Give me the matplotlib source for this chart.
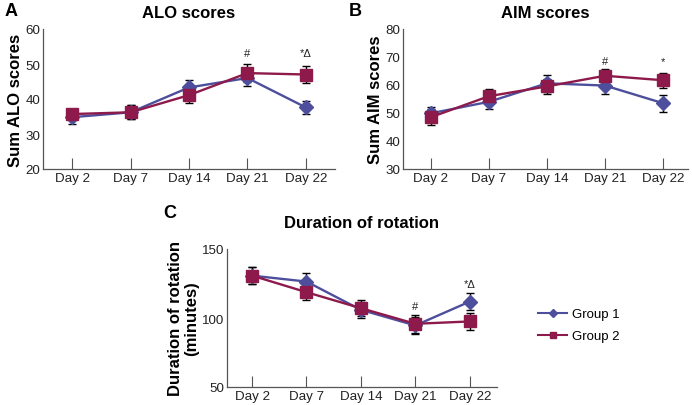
import matplotlib
matplotlib.use("Agg")
import matplotlib.pyplot as plt
from matplotlib.lines import Line2D

plt.rcParams['font.family'] = ['Liberation Sans', 'DejaVu Sans']

days = ["Day 2", "Day 7", "Day 14", "Day 21", "Day 22"]

alo_g1 = [34.8, 36.2, 43.3, 46.0, 37.6]
alo_g1_err = [2.0, 2.0, 2.1, 2.3, 1.9]
alo_g2 = [35.7, 36.2, 41.1, 47.4, 47.0]
alo_g2_err = [1.5, 2.0, 2.1, 2.5, 2.3]

aim_g1 = [49.9, 54.0, 60.6, 59.8, 53.5]
aim_g1_err = [2.4, 2.6, 3.0, 2.9, 3.0]
aim_g2 = [48.5, 56.0, 59.5, 63.3, 61.7]
aim_g2_err = [2.8, 2.6, 2.6, 2.4, 2.6]

rot_g1 = [130.7, 126.4, 105.9, 94.6, 111.9]
rot_g1_err = [6.0, 6.2, 6.0, 6.0, 6.0]
rot_g2 = [130.7, 118.7, 107.1, 95.8, 97.5]
rot_g2_err = [6.2, 6.0, 6.0, 6.5, 6.2]

BLUE = "#4e4f9c"
RED = "#8e1a4c"
AXC = "#555555"

fig = plt.figure(figsize=(6.92, 4.06), dpi=100)

def panel(rect, g1, e1, g2, e2, ylim, yticks, title, ylabel, letter, letter_xy, xlim, annots, tpad):
    ax = fig.add_axes(rect)
    x = list(range(len(days)))
    ax.errorbar(x, g1, yerr=e1, fmt='none', ecolor='black', elinewidth=1.0, capsize=3, capthick=1.0, zorder=2)
    ax.errorbar(x, g2, yerr=e2, fmt='none', ecolor='black', elinewidth=1.0, capsize=3, capthick=1.0, zorder=2)
    ax.plot(x, g1, color=BLUE, lw=1.7, marker='D', ms=7, zorder=3)
    ax.plot(x, g2, color=RED, lw=1.7, marker='s', ms=8.5, zorder=4)
    ax.set_xlim(*xlim)
    ax.set_ylim(*ylim)
    ax.set_xticks(x)
    ax.set_xticklabels(days, fontsize=9.6, color='#222222')
    ax.set_yticks(yticks)
    ax.set_yticklabels([str(t) for t in yticks], fontsize=9.6, color='#222222')
    ax.tick_params(axis='x', direction='in', length=8, width=0.8, color=AXC, pad=2)
    ax.tick_params(axis='y', length=0, pad=2)
    for s in ['top', 'right']:
        ax.spines[s].set_visible(False)
    for s in ['left', 'bottom']:
        ax.spines[s].set_color(AXC)
        ax.spines[s].set_linewidth(0.9)
    ax.set_title(title, fontsize=12, fontweight='bold', pad=tpad)
    ax.set_ylabel(ylabel, fontsize=12, fontweight='bold', labelpad=2, linespacing=1.1)
    fig.text(letter_xy[0], letter_xy[1], letter, fontsize=13, fontweight='bold', va='top', ha='left')
    for (xi, yi, txt) in annots:
        ax.text(xi, yi, txt, fontsize=8, ha='center', va='center', color='#222222')
    return ax

panel([43/692, 1-170/406, 292/692, 140/406], alo_g1, alo_g1_err, alo_g2, alo_g2_err,
      (20, 60), [20, 30, 40, 50, 60], "ALO scores", "Sum ALO scores", "A", (5/692, 1-3/406),
      (-0.5, 4.5), [(3, 53.2, "#"), (4, 53.2, "*\u0394")], 9)

panel([403/692, 1-170/406, 285/692, 140/406], aim_g1, aim_g1_err, aim_g2, aim_g2_err,
      (30, 80), [30, 40, 50, 60, 70, 80], "AIM scores", "Sum AIM scores", "B", (349/692, 1-3/406),
      (-0.48, 4.43), [(3, 68.6, "#"), (4, 68.6, "*")], 9)

panel([227/692, 1-388/406, 270/692, 138/406], rot_g1, rot_g1_err, rot_g2, rot_g2_err,
      (50, 150), [50, 100, 150], "Duration of rotation", "Duration of rotation\n(minutes)", "C", (163/692, 1-205/406),
      (-0.46, 4.5), [(3, 108.8, "#"), (4, 124.7, "*\u0394")], 16)

handles = [Line2D([], [], color=BLUE, lw=1.5, marker='D', ms=4.5),
           Line2D([], [], color=RED, lw=1.5, marker='s', ms=5)]
fig.legend(handles, ["Group 1", "Group 2"], loc='upper left', bbox_to_anchor=(538/692, 1-309/406),
           frameon=False, fontsize=9.5, handlelength=2.2, handletextpad=0.35, labelspacing=0.75,
           borderaxespad=0, borderpad=0)

fig.savefig("out.png", dpi=100)
